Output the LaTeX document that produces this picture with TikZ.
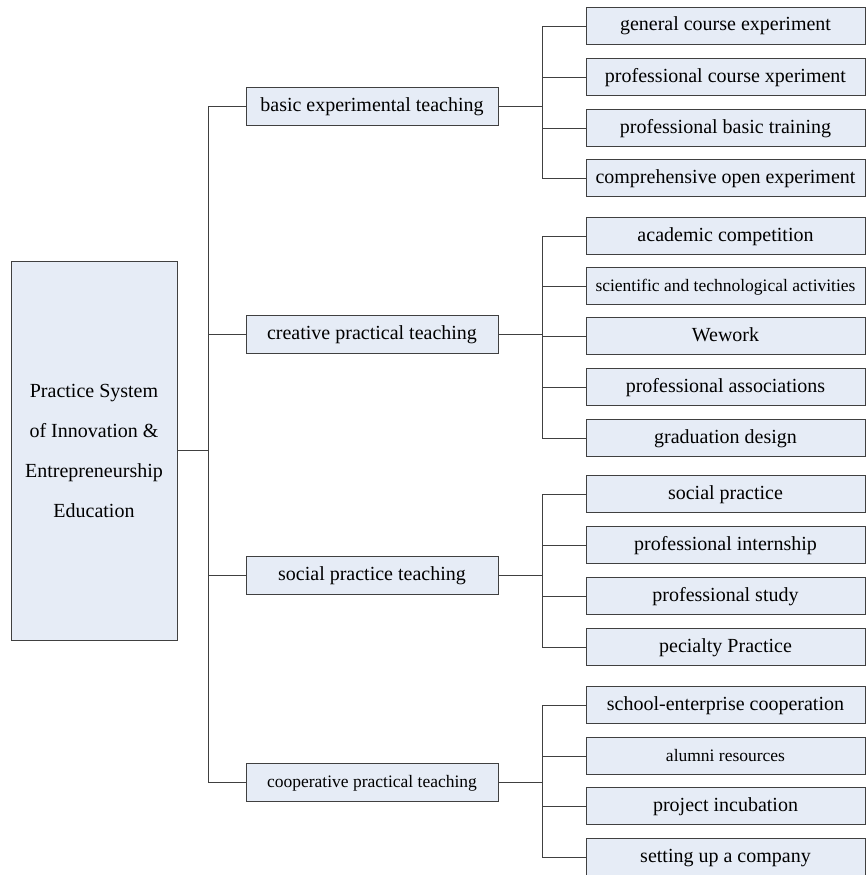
\documentclass[tikz,border=0pt]{standalone}
\usepackage{fontspec}
\setmainfont{Liberation Serif}
\definecolor{boxfill}{HTML}{E6ECF6}
\definecolor{boxline}{HTML}{404040}
\begin{document}
\begin{tikzpicture}[x=1pt,y=-1pt,
    box/.style={draw=boxline,fill=boxfill,line width=1pt,inner sep=0,font=\fontsize{20}{24}\selectfont},
    root/.style={box,minimum width=166,minimum height=379,align=center,font=\fontsize{20}{40}\selectfont},
    mid/.style={box,minimum width=252,minimum height=38,text height=14pt,text depth=4pt},
    midsmall/.style={mid,font=\fontsize{17.5}{21}\selectfont},
    leaf/.style={box,minimum width=279,minimum height=37,text height=14pt,text depth=4pt},
    leafsmall/.style={leaf,font=\fontsize{17.5}{21}\selectfont},
    link/.style={draw=boxline,line width=0.9pt}]
    \useasboundingbox (0,0) rectangle (866,875);

    \node[root](sys) at (94,450.5) {Practice System\\of Innovation \&\\Entrepreneurship\\Education};

    \foreach \n/\y/\s/\txt in {basic/106/mid/basic experimental teaching,
        creative/334/mid/creative practical teaching,
        social/575/mid/social practice teaching,
        coop/782/midsmall/cooperative practical teaching} {
      \node[\s](\n) at (372,\y) {\txt};
      \draw[link] (sys.east) -- ++(31,0) |- (\n.west);
    }

    \foreach \n/\p/\y/\s/\txt in {b1/basic/26/leaf/general course experiment,
        b2/basic/77/leaf/professional course xperiment,
        b3/basic/128/leaf/professional basic training,
        b4/basic/178/leaf/comprehensive open experiment,
        c1/creative/236/leaf/academic competition,
        c2/creative/286/leafsmall/scientific and technological activities,
        c3/creative/336/leaf/Wework,
        c4/creative/387/leaf/professional associations,
        c5/creative/438/leaf/graduation design,
        s1/social/494/leaf/social practice,
        s2/social/545/leaf/professional internship,
        s3/social/596/leaf/professional study,
        s4/social/647/leaf/pecialty Practice,
        k1/coop/705/leaf/school-enterprise cooperation,
        k2/coop/756/leafsmall/alumni resources,
        k3/coop/806/leaf/project incubation,
        k4/coop/857/leaf/setting up a company} {
      \node[\s](\n) at (725.5,\y) {\txt};
      \draw[link] (\p.east) -- ++(44,0) |- (\n.west);
    }
  \end{tikzpicture}
\end{document}
